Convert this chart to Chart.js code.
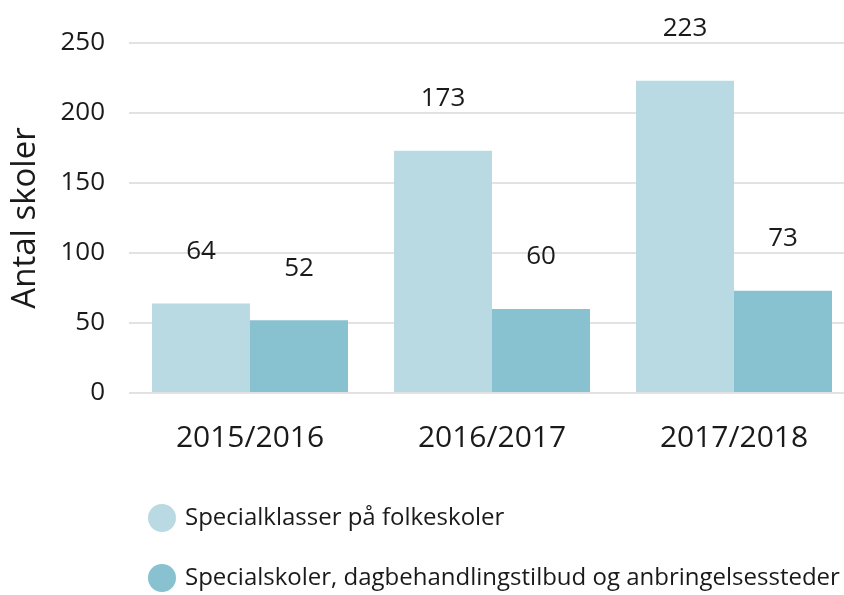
<!doctype html>
<html lang="da">
<head>
<meta charset="utf-8">
<title>Antal skoler</title>
<script src="https://cdn.jsdelivr.net/npm/chart.js"></script>
<style>
body { margin: 0; overflow: hidden; background: #fff; }
#wrap { width: 855px; height: 595px; }
</style>
</head>
<body>
<div id="wrap"><canvas id="myChart"></canvas></div>
<script>
// data
const labels = ['2015/2016', '2016/2017', '2017/2018'];
const specialklasser = [64, 173, 223];
const specialskoler = [52, 60, 73];
const seriesNames = ['Specialklasser på folkeskoler', 'Specialskoler, dagbehandlingstilbud og anbringelsessteder'];
const yTicks = [0, 50, 100, 150, 200, 250];

const FONT = "'Open Sans', sans-serif";
const TEXT = '#1a1a1a';

// values above bars
const valueLabels = {
	id: 'valueLabels',
	afterDatasetsDraw(chart) {
		const ctx = chart.ctx;
		ctx.save();
		ctx.font = '26px ' + FONT;
		ctx.fillStyle = TEXT;
		ctx.textAlign = 'center';
		ctx.textBaseline = 'middle';
		chart.data.datasets.forEach(function(ds, i) {
			chart.getDatasetMeta(i).data.forEach(function(bar, j) {
				ctx.fillText(ds.data[j], bar.x, bar.y - 52);
			});
		});
		ctx.restore();
	}
};

// legend under the chart, one row per series
const bottomLegend = {
	id: 'bottomLegend',
	afterDraw(chart) {
		const ctx = chart.ctx;
		ctx.save();
		ctx.font = '24px ' + FONT;
		ctx.textBaseline = 'middle';
		chart.data.datasets.forEach(function(ds, i) {
			const y = 518 + i * 60;
			ctx.fillStyle = ds.backgroundColor;
			ctx.beginPath();
			ctx.arc(162, y, 14, 0, Math.PI * 2);
			ctx.fill();
			ctx.fillStyle = TEXT;
			ctx.fillText(ds.label, 185, y);
		});
		ctx.restore();
	}
};

const data = {
	labels: labels,
	datasets: [{
		label: seriesNames[0],
		data: specialklasser,
		backgroundColor: '#b9dae3',
		borderWidth: 0,
	}, {
		label: seriesNames[1],
		data: specialskoler,
		backgroundColor: '#88c1cf',
		borderWidth: 0,
	}]
};

const config = {
	type: 'bar',
	data: data,
	plugins: [valueLabels, bottomLegend],
	options: {
		responsive: true,
		maintainAspectRatio: false,
		animation: false,
		barPercentage: 1,
		categoryPercentage: 0.81,
		layout: { padding: { top: 43, right: 0, bottom: 0, left: 0 } },
		plugins: {
			legend: { display: false },
			tooltip: { enabled: false }
		},
		scales: {
			x: {
				grid: { display: false },
				border: { display: false },
				ticks: { color: TEXT, font: { family: FONT, size: 30 }, padding: 19 },
				afterFit: function(scale) { scale.height = 202; }
			},
			y: {
				min: 0,
				max: 250,
				afterBuildTicks: function(scale) {
					scale.ticks = yTicks.map(function(v) { return { value: v }; });
				},
				grid: { color: '#e2e2e2', lineWidth: 2, drawTicks: false },
				border: { display: false },
				ticks: { color: TEXT, font: { family: FONT, size: 26 }, padding: 24 },
				title: {
					display: true,
					text: 'Antal skoler',
					color: TEXT,
					font: { family: FONT, size: 33 },
					padding: { top: 6, bottom: 0 }
				},
				afterFit: function(scale) { scale.width = 129; }
			}
		}
	}
};

new Chart(document.getElementById('myChart'), config);
</script>
</body>
</html>
